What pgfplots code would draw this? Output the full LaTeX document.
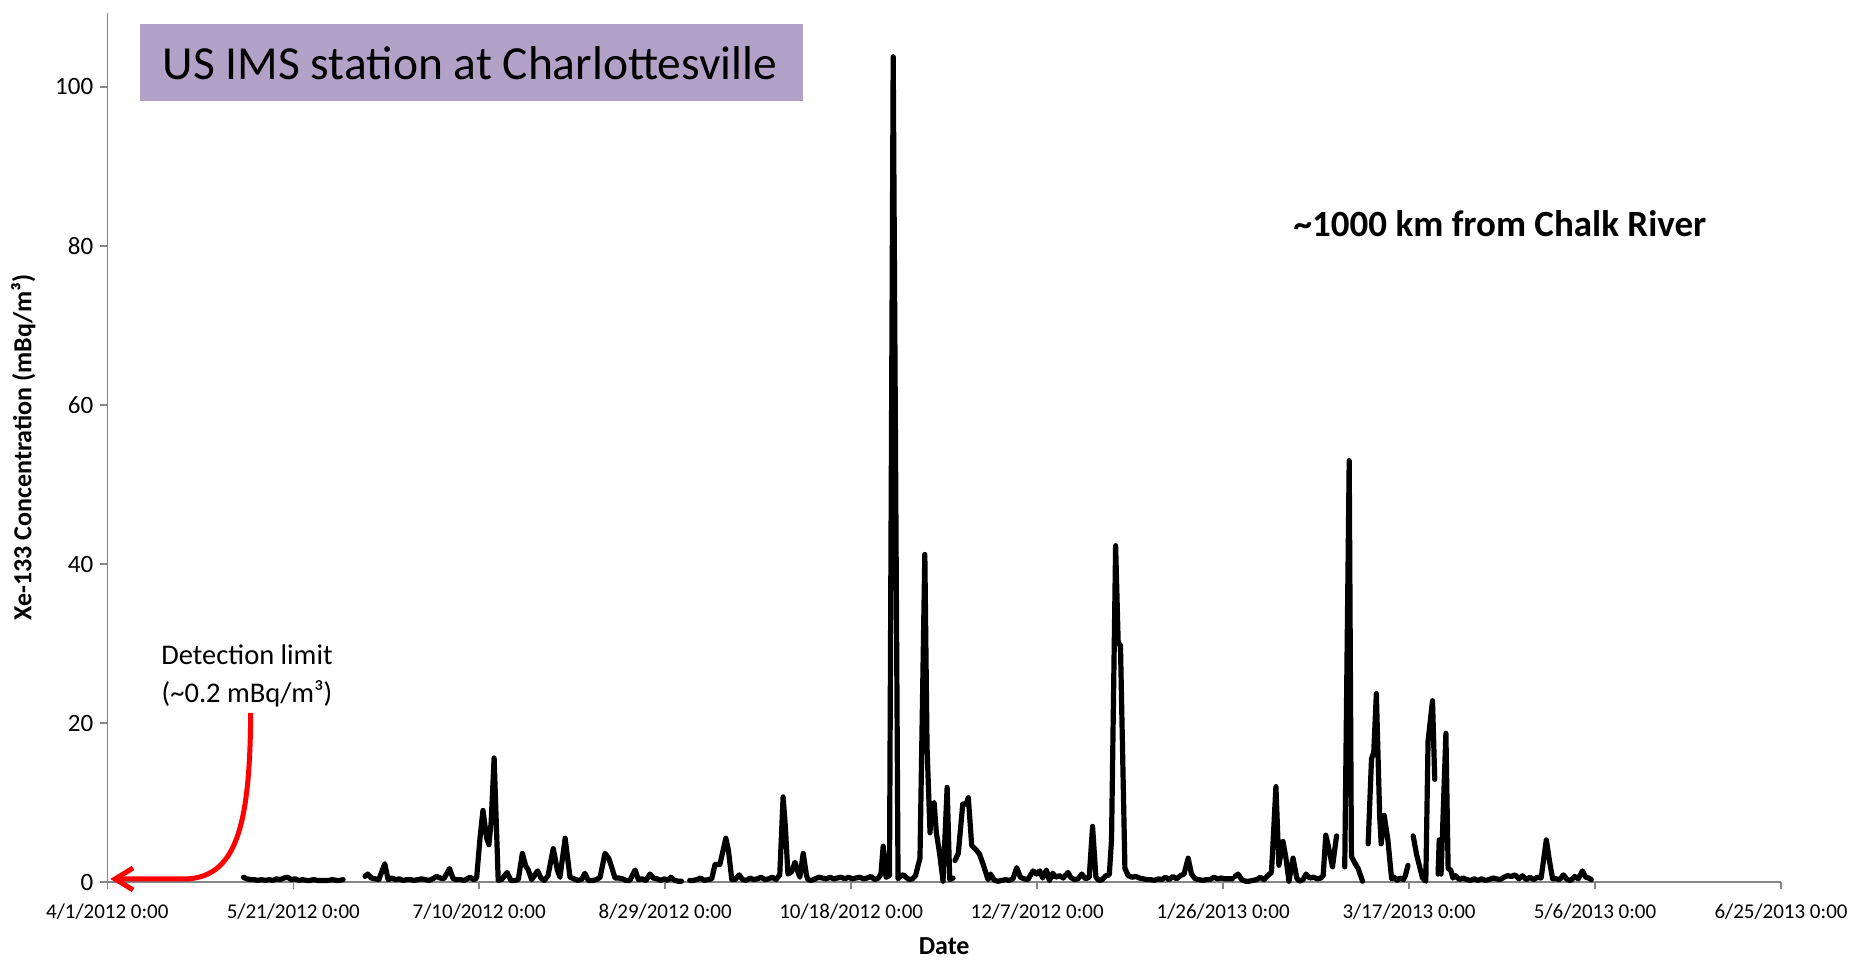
\documentclass[border=0pt]{standalone}
\usepackage{pgfplots}
\pgfplotsset{compat=1.18}
\usepackage{fontspec}
\setmainfont{Carlito}
\usetikzlibrary{arrows.meta}
\definecolor{titlepurple}{HTML}{B3A2C7}
\definecolor{axisgray}{HTML}{868686}
\definecolor{arrowred}{HTML}{FF0000}

\pgfplotstableread{
day val
36.6 0.6
37.5 0.4
38.5 0.3
39.5 0.3
40.5 0.2
41.5 0.3
42.5 0.2
43.5 0.3
44.5 0.2
45.5 0.4
46.5 0.3
47.5 0.5
48.5 0.6
49.5 0.3
50.5 0.4
51.5 0.2
52.5 0.3
53.5 0.2
54.5 0.2
55.5 0.3
56.5 0.2
57.5 0.2
58.5 0.2
59.5 0.2
60.5 0.3
61.5 0.2
62.5 0.2
63.4 0.3
66.0 nan
69.3 0.7
70.0 1.0
71.0 0.5
72.0 0.4
73.0 0.3
74.6 2.3
75.5 0.3
76.5 0.5
77.5 0.3
78.5 0.4
79.5 0.2
80.5 0.3
81.5 0.3
82.5 0.2
83.5 0.3
84.5 0.4
85.5 0.3
86.5 0.2
87.5 0.4
88.5 0.7
89.5 0.5
90.5 0.4
92.0 1.7
93.0 0.4
94.0 0.3
95.0 0.3
96.0 0.2
97.5 0.6
98.5 0.3
99.3 0.5
100.2 5.5
101.0 9.0
102.0 5.5
102.6 4.7
103.2 7.5
104.0 15.6
105.1 0.2
106.0 0.3
107.5 1.2
108.5 0.2
109.5 0.2
110.5 0.3
111.6 3.6
112.5 2.0
113.2 1.5
114.1 0.3
115.7 1.4
116.6 0.5
117.5 0.2
118.5 0.8
119.9 4.2
121.0 1.5
121.7 0.6
123.1 5.5
124.4 0.6
125.5 0.4
126.5 0.2
127.5 0.3
128.4 1.1
129.3 0.2
130.5 0.2
131.5 0.3
132.5 0.6
133.8 3.6
134.8 3.0
135.6 1.9
136.5 0.5
137.5 0.5
138.5 0.4
139.5 0.2
140.5 0.2
141.9 1.5
142.8 0.3
143.8 0.4
144.8 0.2
145.9 1.0
146.8 0.5
147.8 0.4
148.8 0.2
149.8 0.4
150.6 0.2
151.5 0.6
152.5 0.2
153.5 0.1
154.4 0.1
155.5 nan
156.6 0.2
157.5 0.2
158.5 0.3
159.5 0.5
160.5 0.2
161.5 0.3
162.5 0.4
163.4 2.2
164.7 2.2
166.3 5.5
167.0 4.0
167.9 0.3
168.8 0.3
169.9 0.9
170.8 0.3
171.8 0.2
172.8 0.5
173.8 0.3
174.8 0.4
175.8 0.6
176.8 0.3
177.8 0.4
178.8 0.6
179.8 0.3
180.8 0.9
181.7 10.7
182.3 7.0
183.0 1.0
184.0 1.3
184.9 2.5
185.5 1.5
186.2 0.6
187.1 3.6
188.0 0.8
188.4 0.3
189.3 0.2
190.3 0.4
191.3 0.6
192.3 0.5
193.3 0.4
194.3 0.6
195.3 0.4
196.3 0.5
197.3 0.6
198.3 0.4
199.3 0.6
200.3 0.4
201.3 0.5
202.3 0.6
203.3 0.4
204.3 0.5
205.3 0.7
206.3 0.3
207.3 0.5
208.0 1.0
208.6 4.5
209.4 0.6
210.3 0.8
211.3 103.8
212.6 0.4
213.3 0.8
214.0 0.9
215.0 0.5
215.6 0.3
216.5 0.4
217.3 0.8
218.5 3.0
219.8 41.2
220.4 16.9
221.2 6.2
221.6 9.5
222.3 10.0
222.9 6.2
223.8 3.5
224.7 0.1
225.8 11.9
226.5 0.3
227.4 0.5
227.6 nan
227.9 2.7
228.8 3.6
230.0 9.8
230.9 9.8
231.5 10.6
232.4 4.6
233.7 4.0
234.5 3.5
235.5 2.2
236.8 0.3
237.5 1.0
238.5 0.2
239.5 0.1
240.5 0.2
241.5 0.3
242.5 0.2
243.5 0.4
244.5 1.8
245.5 0.6
246.5 0.4
247.5 0.3
248.9 1.4
249.8 1.0
250.7 1.4
251.5 0.5
252.5 1.5
253.3 0.2
254.2 1.1
255.0 0.6
256.0 0.8
257.0 0.5
258.3 1.2
259.0 0.6
260.0 0.3
261.0 0.4
262.0 1.0
263.0 0.4
264.0 0.6
264.9 7.0
265.8 0.6
266.6 0.2
267.5 0.3
268.5 0.8
269.4 0.9
270.0 5.3
271.1 42.3
271.8 30.0
272.4 29.8
273.6 1.7
274.5 0.8
275.5 0.6
276.5 0.7
277.5 0.5
278.5 0.4
279.5 0.3
280.5 0.3
281.5 0.2
282.5 0.4
283.5 0.3
284.5 0.6
285.5 0.3
286.5 0.7
287.5 0.4
288.5 0.8
289.5 1.0
290.6 3.0
291.5 1.0
292.5 0.4
293.5 0.3
294.5 0.2
295.5 0.3
296.5 0.3
297.5 0.6
298.5 0.4
299.5 0.5
300.5 0.4
301.5 0.4
302.5 0.4
302.8 nan
303.2 0.7
304.0 1.0
305.0 0.3
306.0 0.1
307.0 0.1
308.0 0.2
309.0 0.3
310.0 0.6
311.0 0.3
312.0 0.8
313.0 1.2
314.2 12.0
315.0 2.1
316.1 5.1
316.9 3.0
317.7 0.1
318.8 3.0
319.8 0.5
320.5 0.1
321.5 0.3
322.3 1.0
323.3 0.5
324.3 0.6
325.3 0.4
326.3 0.5
326.9 0.8
327.6 5.9
328.3 4.5
329.4 1.9
330.5 5.8
331.5 nan
332.7 1.9
333.9 53.0
334.5 3.2
335.4 2.4
336.3 1.7
337.5 0.1
338.2 nan
339.0 4.8
339.9 15.5
340.5 16.3
341.2 23.7
342.1 8.2
342.5 4.8
343.3 8.4
344.3 5.3
345.3 0.4
346.0 0.6
346.8 0.2
347.5 0.5
348.5 0.3
349.0 0.8
349.7 2.1
350.4 nan
351.1 5.8
352.0 3.5
352.8 2.0
353.6 0.5
354.5 0.1
355.1 17.7
356.3 22.8
356.9 12.9
357.3 nan
357.8 1.0
358.1 5.3
358.6 1.0
359.9 18.7
360.5 1.7
361.2 1.5
361.8 0.5
362.5 0.8
363.5 0.3
364.5 0.5
365.5 0.3
366.5 0.2
367.5 0.4
368.5 0.2
369.5 0.4
370.5 0.2
371.5 0.3
372.5 0.5
373.5 0.4
374.5 0.3
375.5 0.6
376.5 0.8
377.5 0.7
378.5 0.9
379.5 0.4
380.5 0.8
381.5 0.3
382.5 0.6
383.5 0.3
384.5 0.6
385.5 0.5
386.9 5.3
387.8 2.5
388.6 0.4
389.5 0.4
390.5 0.3
391.5 0.9
392.5 0.3
393.5 0.2
394.5 0.7
395.5 0.4
396.6 1.4
397.5 0.6
398.3 0.5
399.0 0.3
}\xedata

\begin{document}
\begin{tikzpicture}
\useasboundingbox (0,0) rectangle (931pt,480pt);
% title box
\fill[titlepurple] (70pt,429.5pt) rectangle (401.5pt,468pt);
\node[anchor=center, inner sep=0pt, font=\fontsize{23.75}{28}\selectfont] at (235pt,448.5pt) {US IMS station at Charlottesville};
\node[anchor=center, inner sep=0pt, font=\fontsize{18.5}{22}\selectfont\bfseries] at (750pt,368pt) {\textasciitilde 1000 km from Chalk River};
\node[anchor=center, inner sep=0pt, align=center, font=\fontsize{14.25}{19.2}\selectfont] at (123.5pt,142pt) {Detection limit\\(\textasciitilde 0.2 mBq/m³)};
\begin{axis}[
  at={(53.65pt,39pt)}, anchor=origin,
  scale only axis,
  width=836.85pt, height=434.5pt,
  xmin=0, xmax=450, ymin=0, ymax=109.3,
  axis lines=left,
  axis line style={-, draw=axisgray, line width=0.75pt},
  clip=false,
  xtick={0,50,...,450},
  xticklabels={4/1/2012 0:00, 5/21/2012 0:00, 7/10/2012 0:00, 8/29/2012 0:00, 10/18/2012 0:00, 12/7/2012 0:00, 1/26/2013 0:00, 3/17/2013 0:00, 5/6/2013 0:00, 6/25/2013 0:00},
  ytick={0,20,...,100},
  tick align=outside,
  major tick length=3.5pt,
  tick style={draw=axisgray, line width=0.75pt},
  /pgf/number format/assume math mode=true,
  xticklabel style={font=\fontsize{10.5}{12}\selectfont, yshift=-4pt},
  yticklabel style={font=\fontsize{12.5}{15}\selectfont, xshift=0pt},
  xlabel={Date},
  ylabel={Xe-133 Concentration (mBq/m³)},
  every axis x label/.style={at={(axis description cs:0.5,0)}, anchor=center, yshift=-32pt, font=\fontsize{13}{15}\selectfont\bfseries},
  every axis y label/.style={at={(axis description cs:0,0.5)}, xshift=-42pt, anchor=center, rotate=90, font=\fontsize{13}{15}\selectfont\bfseries},
  unbounded coords=jump,
]
\addplot[black, line width=2.6pt, line join=round, line cap=round] table[x=day, y=val] {\xedata};
\draw[arrowred, line width=2.5pt, -{Straight Barb[length=9pt,width=11pt]}]
  (axis cs:38.55,21.26) .. controls (axis cs:38.36,6.54) and (axis cs:34.33,0.38) .. (axis cs:20.35,0.38) -- (axis cs:0.8,0.38);
\end{axis}
\end{tikzpicture}
\end{document}
